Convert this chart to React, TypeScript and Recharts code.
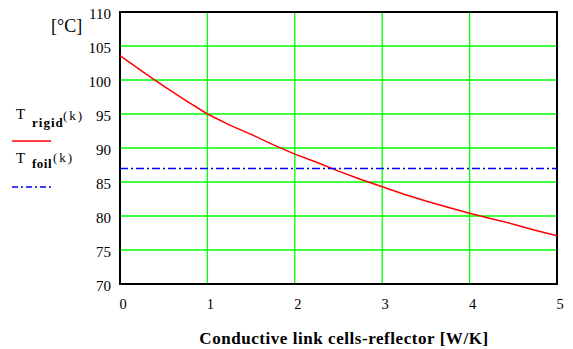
import { LineChart, Line, XAxis, YAxis, CartesianGrid, ReferenceArea } from "recharts";

const kValues = [0, 0.25, 0.5, 0.75, 1, 1.25, 1.5, 1.75, 2, 2.25, 2.5, 2.75, 3, 3.25, 3.5, 3.75, 4, 4.25, 4.5, 4.75, 5];
const rigidValues = [103.6, 101.3, 99.1, 97.0, 95.0, 93.4, 92.0, 90.5, 89.1, 87.9, 86.6, 85.4, 84.3, 83.2, 82.2, 81.3, 80.4, 79.6, 78.8, 77.9, 77.1];
const foilK = [0, 5];
const foilValues = [87, 87];
const xTicks = [0, 1, 2, 3, 4, 5];
const yTicks = [70, 75, 80, 85, 90, 95, 100, 105, 110];

const rigidData = kValues.map((k, i) => ({ k, rigid: rigidValues[i] }));
const foilData = foilK.map((k, i) => ({ k, foil: foilValues[i] }));

const FONT = "'Liberation Serif', 'Times New Roman', serif";

const YTick = (props: any) => {
  const { x, y, payload } = props;
  return (
    <text x={x - 7} y={y + 7} textAnchor="end" fontSize={15} fontFamily={FONT} fill="#000">
      {payload.value}
    </text>
  );
};

const XTick = (props: any) => {
  const { x, y, payload } = props;
  return (
    <text x={x + 3} y={y + 23} textAnchor="middle" fontSize={14.5} fontFamily={FONT} fill="#000">
      {payload.value}
    </text>
  );
};

export default function App() {
  return (
    <div style={{ position: "absolute", left: 0, top: 0, width: 573, height: 349, background: "#fff" }}>
      <LineChart width={573} height={349} margin={{ top: 12, right: 16, bottom: 0, left: 0 }}>
        <CartesianGrid stroke="#00ff00" strokeWidth={1.3} />
        <XAxis
          type="number"
          dataKey="k"
          domain={[0, 5]}
          ticks={xTicks}
          height={65}
          tickSize={0}
          tickLine={false}
          axisLine={false}
          tick={<XTick />}
          allowDataOverflow
        />
        <YAxis
          type="number"
          domain={[70, 110]}
          ticks={yTicks}
          width={120}
          tickSize={0}
          tickLine={false}
          axisLine={false}
          tick={<YTick />}
          allowDataOverflow
        />
        <ReferenceArea x1={0} x2={5} y1={70} y2={110} fill="none" stroke="#000" strokeWidth={2} ifOverflow="visible" />
        <Line data={rigidData} dataKey="rigid" stroke="#ff0000" strokeWidth={1.5} dot={false} isAnimationActive={false} />
        <Line data={foilData} dataKey="foil" stroke="#0000ff" strokeWidth={1.5} strokeDasharray="8 3 2 3" dot={false} isAnimationActive={false} />
      </LineChart>
      <svg width={573} height={349} style={{ position: "absolute", left: 0, top: 0, pointerEvents: "none" }}>
        <g fontFamily={FONT} fill="#000">
          <text x={51} y={32} fontSize={18}>[°C]</text>
          <text x={16} y={119} fontSize={15}>T</text>
          <text x={32} y={127} fontSize={13} fontWeight="bold" letterSpacing={1}>rigid</text>
          <text x={63} y={120} fontSize={13} letterSpacing={2}>(k)</text>
          <line x1={12} y1={141} x2={51} y2={141} stroke="#ff0000" strokeWidth={1.5} />
          <text x={16} y={163} fontSize={15}>T</text>
          <text x={32} y={168} fontSize={13} fontWeight="bold" letterSpacing={0.5}>foil</text>
          <text x={53} y={162} fontSize={13} letterSpacing={2}>(k)</text>
          <line x1={12} y1={187} x2={51} y2={187} stroke="#0000ff" strokeWidth={1.5} strokeDasharray="6 3 2 3" />
          <text x={344} y={344} fontSize={17} fontWeight="bold" textAnchor="middle" letterSpacing={0.55}>
            Conductive link cells-reflector [W/K]
          </text>
        </g>
      </svg>
    </div>
  );
}
